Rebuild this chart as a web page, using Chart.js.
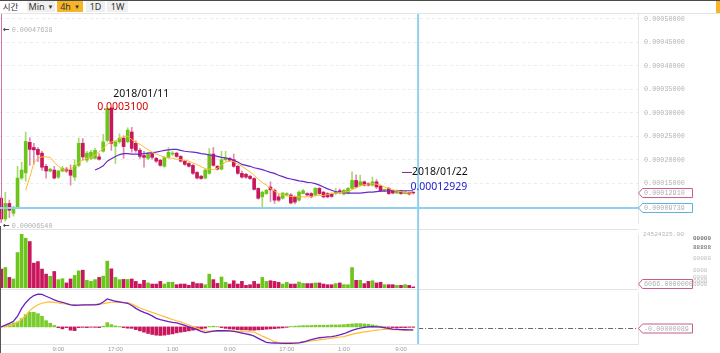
<!DOCTYPE html>
<html>
<head>
<meta charset="utf-8">
<script src="https://cdn.jsdelivr.net/npm/chart.js@4.4.1/dist/chart.umd.min.js"></script>
<style>
  html, body { margin: 0; padding: 0; background: #fff; }
  body { width: 720px; height: 353px; position: relative; overflow: hidden; font-family: "Noto Sans", sans-serif; }
  #toolbar { position: absolute; left: 0; top: 0; width: 720px; height: 12px; border-top: 1px solid #4a4a4a; border-bottom: 1px solid #e4e4e4; }
  .btn { position: absolute; top: 0; height: 11px; line-height: 11px; font-size: 9px; color: #333; text-align: center; white-space: nowrap; }
  .btn small { font-size: 6px; margin-left: 3px; vertical-align: 1px; }
  .grey { background: #efefef; }
  .pane { position: absolute; left: 0; width: 720px; }
  .mark { position: absolute; font: 6.8px "Liberation Mono", monospace; color: #b0b0b0; white-space: nowrap; line-height: 8px; }
  .mark b { color: #444; font: bold 8px "DejaVu Sans", sans-serif; margin-right: 2px; }
  .junk { position: absolute; left: 693px; font: 6px "Liberation Mono", monospace; color: #bbb; line-height: 6px; }
</style>
</head>
<body>
<div id="toolbar">
  <div class="btn" style="left:1px;width:19px;font-family:'Noto Sans CJK KR',sans-serif;font-size:8.5px;">시간</div>
  <div class="btn grey" style="left:27px;width:28px;">Min<small>▼</small></div>
  <div class="btn" style="left:57px;width:26px;background:#f5b527;">4h<small>▼</small></div>
  <div class="btn grey" style="left:86px;width:19px;">1D</div>
  <div class="btn grey" style="left:107px;width:21px;">1W</div>
  <div style="position:absolute;left:716px;top:0;width:4px;height:12px;background:#f5b527;"></div>
</div>

<div class="pane" style="top:14px;height:212px;"><canvas id="price" width="720" height="212"></canvas></div>
<div class="pane" style="top:226px;height:65px;"><canvas id="volume" width="720" height="65"></canvas></div>
<div class="pane" style="top:291px;height:62px;"><canvas id="macd" width="720" height="62"></canvas></div>

<div class="mark" style="left:3px;top:25px;"><b>&larr;</b>0.00047638</div>
<div class="mark" style="left:3px;top:221px;"><b>&larr;</b>0.00006540</div>

<div class="junk" style="top:236px;color:#777;font-weight:bold;">00000</div>
<div class="junk" style="top:245px;color:#888;font-weight:bold;">88888</div>
<div class="junk" style="top:256px;">00000</div>
<div class="junk" style="top:268px;">0000</div>
<div class="junk" style="top:275px;">0000</div>
<div class="junk" style="top:279px;">0000</div>
<div class="junk" style="top:282px;">0000</div>

<script>
// ---- data (candle index 0..101) ----
const opens = [0.000118,0.0000740,0.000107,0.000086,0.000099,0.000161,0.000172,0.000237,0.000226,0.000222,
  0.000214,0.000186,0.000176,0.000178,0.000163,0.000176,0.000180,0.000178,0.000163,0.000188,
  0.000235,0.000199,0.000203,0.000203,0.000206,0.000218,0.000241,0.000310,0.000229,0.000238,
  0.000246,0.000238,0.000259,0.000235,0.000220,0.000209,0.000203,0.000213,0.000203,0.000199,
  0.000186,0.000205,0.000212,0.000214,0.000207,0.000197,0.000192,0.000188,0.000173,0.000165,
  0.000161,0.000171,0.000212,0.000186,0.000180,0.000200,0.000203,0.000200,0.000186,0.000171,
  0.000169,0.000165,0.000160,0.000139,0.000121,0.000128,0.000142,0.000135,0.000121,0.000118,
  0.000125,0.000125,0.000121,0.000114,0.000128,0.000128,0.000128,0.000125,0.000139,0.000131,
  0.000128,0.000127,0.000128,0.000134,0.000127,0.000129,0.000139,0.000156,0.000146,0.000153,
  0.000149,0.000146,0.000153,0.000144,0.000134,0.000139,0.000134,0.000129,0.000134,0.000128,
  0.000130,0.0001295];
const highs = [0.000121,0.000131,0.000114,0.000101,0.000186,0.000195,0.000259,0.000247,0.000235,0.000226,
  0.000218,0.000190,0.000182,0.000186,0.000178,0.000186,0.000184,0.000189,0.000200,0.000246,
  0.000245,0.000218,0.000220,0.000224,0.000213,0.000254,0.000310,0.000310,0.000240,0.000255,
  0.000251,0.000268,0.000269,0.000240,0.000224,0.000218,0.000216,0.000216,0.000205,0.000201,
  0.000207,0.000226,0.000218,0.000216,0.000209,0.000199,0.000194,0.000190,0.000175,0.000167,
  0.000180,0.000224,0.000226,0.000188,0.000218,0.000218,0.000205,0.000212,0.000188,0.000176,
  0.000171,0.000167,0.000162,0.000140,0.000133,0.000137,0.000153,0.000138,0.000126,0.000131,
  0.000130,0.000128,0.000123,0.000134,0.000137,0.000130,0.000130,0.000141,0.000141,0.000133,
  0.000130,0.000129,0.000139,0.000138,0.000137,0.000141,0.000174,0.000168,0.000167,0.000155,
  0.000151,0.000163,0.000158,0.000146,0.000138,0.000141,0.000135,0.000136,0.000135,0.000133,
  0.000131,0.000130];
const lows = [0.0000654,0.000069,0.000077,0.000080,0.000097,0.000158,0.000154,0.000188,0.000190,0.000196,
  0.000177,0.000161,0.000174,0.000159,0.000160,0.000174,0.000173,0.000146,0.000156,0.000185,
  0.000199,0.000195,0.000200,0.000201,0.000199,0.000216,0.000238,0.000220,0.000192,0.000235,
  0.000203,0.000236,0.000216,0.000216,0.000203,0.000184,0.000200,0.000201,0.000194,0.000186,
  0.000184,0.000203,0.000209,0.000205,0.000195,0.000188,0.000184,0.000169,0.000159,0.000158,
  0.000159,0.000169,0.000186,0.000178,0.000178,0.000197,0.000197,0.000184,0.000169,0.000161,
  0.000160,0.000158,0.000135,0.000116,0.0000996,0.000126,0.000111,0.000107,0.000111,0.000116,
  0.000123,0.000106,0.000106,0.000112,0.000127,0.000123,0.000119,0.000123,0.000126,0.000119,
  0.000119,0.000120,0.000126,0.000128,0.000125,0.000127,0.000137,0.000140,0.000144,0.000144,
  0.000144,0.000144,0.000139,0.000132,0.000132,0.000126,0.000127,0.000128,0.000126,0.000127,
  0.000125,0.000127];
const closes = [0.0000740,0.000107,0.0000925,0.000099,0.000161,0.000178,0.000239,0.000222,0.000221,0.000211,
  0.000184,0.000176,0.000180,0.000161,0.000176,0.000182,0.000176,0.000167,0.000188,0.000235,
  0.000206,0.000214,0.000216,0.000220,0.000201,0.000238,0.000309,0.000235,0.000238,0.000246,
  0.000228,0.000263,0.000224,0.000220,0.000207,0.000205,0.000213,0.000205,0.000197,0.000188,
  0.000205,0.000216,0.000214,0.000207,0.000197,0.000190,0.000186,0.000171,0.000161,0.000160,
  0.000178,0.000212,0.000188,0.000180,0.000200,0.000203,0.000199,0.000186,0.000171,0.000163,
  0.000163,0.000160,0.000137,0.000118,0.000131,0.000135,0.000136,0.000114,0.000114,0.000129,
  0.000128,0.000108,0.000110,0.000131,0.000134,0.000125,0.000121,0.000139,0.000128,0.000121,
  0.000121,0.000122,0.000131,0.000132,0.000135,0.000139,0.000156,0.000142,0.000153,0.000146,
  0.000146,0.000153,0.000142,0.000134,0.000137,0.000128,0.000129,0.000134,0.000128,0.000132,
  0.000127,0.0001291];

// moving averages on the price pane
const maFast = [null,null,null,null,null,null,
  0.000135,0.000163,0.000193,0.000203,0.000206,0.000206,0.000205,0.000195,0.000186,0.000180,
  0.000178,0.000180,0.000186,0.000194,0.000199,0.000203,0.000205,0.000210,0.000217,0.000224,
  0.000233,0.000238,0.000240,0.000245,0.000249,0.000250,0.000243,0.000237,0.000233,0.000227,
  0.000221,0.000216,0.000212,0.000209,0.000205,0.000204,0.000203,0.000201,0.000200,0.000199,
  0.000197,0.000193,0.000190,0.000185,0.000181,0.000180,0.000179,0.000182,0.000189,0.000195,
  0.000197,0.000196,0.000191,0.000186,0.000180,0.000174,0.000167,0.000159,0.000151,0.000146,
  0.000139,0.000133,0.000128,0.000126,0.000123,0.000122,0.000122,0.000121,0.000121,0.000121,
  0.000122,0.000123,0.000124,0.000124,0.000126,0.000128,0.000129,0.000130,0.000131,0.000132,
  0.000136,0.000140,0.000144,0.000147,0.000148,0.000149,0.000148,0.000146,0.000142,0.000139,
  0.000136,0.000134,0.000132,0.000131,0.000129,0.000128];
const maSlow = [null,null,null,null,null,null,null,null,null,null,null,null,null,null,null,null,
  null,null,null,null,null,null,null,
  0.000178,0.000182,0.000187,0.000197,0.000202,0.000207,0.000211,0.000213,0.000213,0.000212,
  0.000212,0.000212,0.000213,0.000214,0.000215,0.000216,0.000218,0.000220,0.000221,0.000222,
  0.000222,0.000220,0.000218,0.000217,0.000216,0.000215,0.000213,0.000212,0.000210,0.000209,
  0.000207,0.000205,0.000204,0.000202,0.000199,0.000195,0.000190,0.000188,0.000186,0.000183,
  0.000181,0.000179,0.000176,0.000173,0.000171,0.000167,0.000164,0.000161,0.000159,0.000157,
  0.000155,0.000154,0.000152,0.000151,0.000149,0.000146,0.000142,0.000138,0.000135,0.000132,
  0.000130,0.000130,0.000129,0.000129,0.000129,0.000129,0.000130,0.000131,0.000131,0.000132,
  0.000133,0.000133,0.000134,0.000134,0.000134,0.000134,0.000134,0.000134,0.000134];

// volume in millions
const volumes = [8.6,9.3,4.8,4.1,16.1,24.52,22.6,21.1,11.3,12.0, 8.6,6.3,5.3,7.5,3.8,4.2,2.3,4.1,5.7,7.8,
  8.1,3.5,3.0,3.8,4.8,5.4,12.2,8.7,4.8,3.8, 3.9,3.9,4.1,3.0,1.8,3.5,2.3,1.8,1.8,3.0,
  1.8,2.6,2.6,1.5,1.8,1.8,1.2,2.7,2.0,2.0, 1.5,6.3,3.8,2.1,5.0,2.6,1.8,3.3,1.8,3.0,
  1.2,1.5,3.0,1.8,4.8,3.0,3.3,3.0,2.6,1.8, 2.6,1.8,1.8,2.7,2.1,2.0,2.0,2.3,2.3,1.8,
  1.5,1.5,2.0,2.3,1.5,1.5,9.3,3.5,3.5,2.0, 3.0,3.3,2.3,2.6,1.5,1.5,1.5,1.2,1.2,1.5, 1.2,0.5];
const volMax = 24.524325;

// MACD pane, in units of 1e-6
const macdLine = [0,1.2,2.5,4.0,7.5,13,17,20,22,23, 22.8,21.5,20.3,19,18,17.3,16.3,15.5,15.2,15.3,
  15.4,15.4,15.4,15.5,15.9,17.5,19.6,18.8,18,17.5, 17,16.6,15,13,11.4,10.2,9.1,7.7,6,5.1,
  4.4,3.7,3.2,2.8,2.0,1.1,0,-1,-1.9,-3.2, -4.0,-3.5,-3.0,-2.7,-2.6,-2.7,-2.8,-3.2,-3.7,-4.3,
  -4.9,-5.5,-6.5,-8,-9.5,-10.8,-11.2,-11.3,-11.4,-11.5, -11.5,-11.5,-11.4,-11.2,-10.6,-9.8,-8.9,-8.2,-7.6,-7.3,
  -7.0,-6.8,-6.3,-5.6,-4.8,-3.6,-2.4,-1.6,-0.9,-0.4, 0,0.1,0,-0.2,-0.6,-1.1,-1.5,-1.7,-1.9,-2.0, -2.1,-2.1];
const signalLine = [0,0.4,0.9,1.6,3.2,5.2,8,11.4,13.8,15.6, 16.6,17.2,17.5,17.2,16.8,16.4,16.1,15.7,15.3,15.2,
  15.3,15.4,15.6,15.8,15.9,16.4,16.9,17.3,17.3,17.2, 17.1,17,16,14.6,13.3,12.2,11.2,10.2,9.2,8.2,
  7.2,6.2,5.2,4.3,3.5,2.4,1.3,0.2,-0.9,-1.9, -2.7,-3.0,-3.0,-3.0,-2.9,-2.8,-2.8,-2.9,-3.1,-3.3,
  -3.5,-3.4,-3.6,-5,-6.5,-7.7,-9,-10.3,-11,-11.2, -11.2,-11.1,-11.1,-11,-10.7,-10.3,-9.9,-9.5,-9.1,-8.7,
  -8.3,-7.9,-7.5,-7.1,-6.8,-6.0,-5.3,-4.6,-4.0,-3.5, -3.1,-2.7,-2.3,-2.0,-1.8,-1.8,-1.9,-2.0,-2.1,-2.2, -2.2,-2.3];
const macdHist = [0.3,0.8,1.6,2.8,3.5,5.8,8.6,10.3,10.3,9.3, 7.5,4.4,2.6,1.0,-0.5,-1.4,-0.5,-2.3,-2.6,-0.5,
  -0.3,-0.5,-0.2,-0.3,-0.5,0.5,3.0,1.6,0.7,0.3, -0.5,-0.9,-1.0,-1.9,-2.8,-3.7,-4.6,-5.3,-5.8,-6.0,
  -5.8,-5.3,-4.9,-4.2,-3.7,-3.3,-2.8,-2.3,-1.9,-1.4, -0.9,0.3,0.5,0.2,-0.5,-1.0,-1.4,-1.6,-1.9,-2.1,
  -2.1,-2.3,-2.3,-2.1,-1.9,-1.6,-1.4,-1.2,-0.9,-0.7, -0.3,0.3,0.5,0.7,0.9,0.9,1.0,1.2,1.2,1.2,
  1.2,1.4,1.4,1.4,1.6,1.9,2.1,2.3,2.3,2.1, 1.9,1.4,0.9,0.5,0.2,-0.3,-0.5,-0.7,-0.5,-0.5, -0.3,-0.3];

// axes
const priceTicks = [0.00015, 0.0002, 0.00025, 0.0003, 0.00035, 0.0004, 0.00045, 0.0005];
const tickIdx = [14, 28, 42, 56, 70, 84, 98];
const tickText = ['9:00', '17:00', '1:00', '9:00', '17:00', '1:00', '9:00'];

// markers
const nowIdx = 102.2;
const crossPrice = 0.00009739;
const lastPrice = 0.0001291;
const highIdx = 26, highPrice = 0.00031;
const noteIdx = 98, notePrice = 0.00012929;

const UP = '#6cc51b', DOWN = '#c8175d', UP_WICK = '#a5dc6a', DOWN_WICK = '#e08ab0';
const BLUE = '#90cff0';
const monoFont = { family: 'Liberation Mono', size: 6.8 };

function line(ctx, x1, y1, x2, y2) {
  ctx.beginPath(); ctx.moveTo(x1, y1); ctx.lineTo(x2, y2); ctx.stroke();
}

function tag(ctx, x0, x1, y, text, color) {
  ctx.save();
  ctx.beginPath();
  ctx.moveTo(x0 + 0.5, y);
  ctx.lineTo(x0 + 4.5, y - 4.5);
  ctx.lineTo(x1 + 0.5, y - 4.5);
  ctx.lineTo(x1 + 0.5, y + 4.5);
  ctx.lineTo(x0 + 4.5, y + 4.5);
  ctx.closePath();
  ctx.fillStyle = '#fff'; ctx.fill();
  ctx.strokeStyle = color; ctx.lineWidth = 1; ctx.stroke();
  ctx.fillStyle = '#b0b0b0';
  ctx.font = '6.8px "Liberation Mono", monospace';
  ctx.textBaseline = 'middle';
  ctx.fillText(text, x0 + 6, y + 0.5);
  ctx.restore();
}

function xAxis(show) {
  return {
    type: 'linear', min: -0.3, max: 156.1, offset: false, display: show,
    grid: { display: false, drawTicks: false },
    border: { display: false },
    ticks: {
      color: '#9a9a9a', font: { family: 'Liberation Sans', size: 6 }, padding: 2,
      maxRotation: 0, autoSkip: false,
      callback: v => { const k = tickIdx.indexOf(v); return k < 0 ? '' : tickText[k]; }
    },
    afterBuildTicks: s => { s.ticks = tickIdx.map(v => ({ value: v })); },
    afterFit: s => { s.height = show ? 9 : 0; }
  };
}

function rightAxis(extra) {
  return Object.assign({
    position: 'right',
    grid: { display: false, drawTicks: false },
    border: { display: true, color: '#e6e6e6' },
    ticks: { color: '#b4b4b4', font: monoFont, padding: 6 },
    afterFit: s => { s.width = 82; s.paddingTop = 0; s.paddingBottom = 0; }
  }, extra);
}

const idx = opens.map((o, i) => i);
const isUp = idx.map(i => closes[i] >= opens[i]);

const base = {
  responsive: false, animation: false, devicePixelRatio: 1, events: [],
  plugins: { legend: { display: false }, tooltip: { enabled: false } }
};

// ---- price pane ----
const priceOverlay = {
  id: 'priceOverlay',
  afterDraw(chart) {
    const { ctx, chartArea: a, scales: { x, y } } = chart;
    ctx.save();
    ctx.strokeStyle = '#d873a6'; ctx.lineWidth = 1;
    line(ctx, 1.5, 0, 1.5, a.bottom - 2);
    ctx.strokeStyle = BLUE; ctx.lineWidth = 2;
    const bx = x.getPixelForValue(nowIdx);
    line(ctx, bx, 0, bx, chart.height);
    const by = y.getPixelForValue(crossPrice);
    line(ctx, 0, by, a.right, by);

    tag(ctx, a.right, 692, y.getPixelForValue(lastPrice), '0.00012910', '#c85a8e');
    tag(ctx, a.right, 692, by, crossPrice.toFixed(8), '#5aaee0');

    ctx.font = '10.5px "Noto Sans", sans-serif';
    ctx.textBaseline = 'middle';
    const hx = x.getPixelForValue(highIdx), hy = y.getPixelForValue(highPrice);
    ctx.fillStyle = '#111';
    ctx.fillText('2018/01/11', hx + 6, hy - 14);
    ctx.fillStyle = '#d40000';
    ctx.fillText('0.0003100', hx - 10, hy - 1);

    const nx = x.getPixelForValue(noteIdx), ny = y.getPixelForValue(notePrice);
    ctx.strokeStyle = '#7a2a80'; ctx.lineWidth = 1;
    line(ctx, nx + 1, ny - 20.5, nx + 11, ny - 20.5);
    ctx.fillStyle = '#111';
    ctx.fillText('2018/01/22', nx + 11, ny - 21);
    ctx.fillStyle = '#1a1acc';
    ctx.fillText('0.00012929', nx + 9.5, ny - 6);
    ctx.restore();
  }
};

new Chart(document.getElementById('price'), {
  type: 'bar',
  data: {
    datasets: [
      { type: 'line', data: idx.map(i => ({ x: i, y: maFast[i] })), borderColor: '#ffbb2c', borderWidth: 1,
        pointRadius: 0, order: 0 },
      { type: 'line', data: idx.map(i => ({ x: i, y: maSlow[i] })), borderColor: '#6a28cc', borderWidth: 1.2,
        pointRadius: 0, order: 0 },
      { data: idx.map(i => ({ x: i, y: [Math.min(opens[i], closes[i]), Math.max(opens[i], closes[i])] })),
        backgroundColor: isUp.map(u => u ? UP : DOWN), barThickness: 3, minBarLength: 1,
        grouped: false, order: 1 },
      { data: idx.map(i => ({ x: i, y: [lows[i], highs[i]] })),
        backgroundColor: isUp.map(u => u ? UP_WICK : DOWN_WICK), barThickness: 1,
        grouped: false, order: 2 }
    ]
  },
  options: Object.assign({}, base, {
    layout: { padding: { top: 0, bottom: 3, left: 0, right: 0 } },
    scales: {
      x: xAxis(false),
      y: rightAxis({
        min: 0.0000654, max: 0.00051,
        grid: { display: true, drawTicks: false, color: '#ececec' },
        border: { display: true, color: '#e6e6e6', dash: [3, 3] },
        afterBuildTicks: s => { s.ticks = priceTicks.map(v => ({ value: v })); },
        ticks: { color: '#b4b4b4', font: monoFont, padding: 6, callback: v => v.toFixed(8) }
      })
    }
  }),
  plugins: [priceOverlay]
});

// ---- volume pane ----
const volOverlay = {
  id: 'volOverlay',
  afterDraw(chart) {
    const { ctx, chartArea: a, scales: { x } } = chart;
    ctx.save();
    ctx.strokeStyle = '#e4e4e4'; ctx.lineWidth = 1;
    line(ctx, 0, 3.5, a.right, 3.5);
    line(ctx, 0, 63.5, a.right, 63.5);
    ctx.strokeStyle = '#555';
    line(ctx, 0.5, 0, 0.5, chart.height);
    ctx.strokeStyle = BLUE; ctx.lineWidth = 2;
    const bx = x.getPixelForValue(nowIdx);
    line(ctx, bx, 0, bx, chart.height);
    tag(ctx, a.right, 692, a.bottom - 4, '6066.0000000', '#c85a8e');
    ctx.restore();
  }
};

new Chart(document.getElementById('volume'), {
  type: 'bar',
  data: {
    datasets: [{
      data: idx.map(i => ({ x: i, y: volumes[i] })),
      backgroundColor: isUp.map(u => u ? UP : DOWN), barThickness: 3
    }]
  },
  options: Object.assign({}, base, {
    layout: { padding: { top: 8, bottom: 3, left: 0, right: 0 } },
    scales: {
      x: xAxis(false),
      y: rightAxis({
        min: 0, max: volMax,
        afterBuildTicks: s => { s.ticks = [{ value: volMax }]; },
        ticks: { color: '#b4b4b4', font: { family: 'Liberation Mono', size: 6.2 }, padding: 5,
          callback: v => (v * 1e6).toFixed(2) }
      })
    }
  }),
  plugins: [volOverlay]
});

// ---- MACD pane ----
const macdOverlay = {
  id: 'macdOverlay',
  afterDraw(chart) {
    const { ctx, chartArea: a, scales: { x, y } } = chart;
    ctx.save();
    ctx.strokeStyle = '#e4e4e4'; ctx.lineWidth = 1;
    line(ctx, 0, a.bottom + 0.5, a.right, a.bottom + 0.5);
    ctx.strokeStyle = '#555';
    line(ctx, 0.5, 0, 0.5, chart.height);
    const bx = x.getPixelForValue(nowIdx);
    const zy = Math.round(y.getPixelForValue(-0.89)) + 0.5;
    ctx.strokeStyle = '#666'; ctx.lineWidth = 1; ctx.setLineDash([5, 2, 1, 2]);
    line(ctx, bx, zy, a.right, zy);
    ctx.setLineDash([]);
    ctx.strokeStyle = BLUE; ctx.lineWidth = 2;
    line(ctx, bx, 0, bx, a.bottom);
    tag(ctx, a.right, 692, zy, '-0.00000089', '#c85a8e');
    ctx.restore();
  }
};

new Chart(document.getElementById('macd'), {
  type: 'bar',
  data: {
    datasets: [
      { type: 'line', data: idx.map(i => ({ x: i, y: macdLine[i] })), borderColor: '#6a1fc8', borderWidth: 1.3,
        pointRadius: 0, order: 0 },
      { type: 'line', data: idx.map(i => ({ x: i, y: signalLine[i] })), borderColor: '#ffbf33', borderWidth: 1.2,
        pointRadius: 0, order: 0 },
      { data: idx.map(i => ({ x: i, y: macdHist[i] })),
        backgroundColor: macdHist.map(v => v >= 0 ? '#79cc2c' : DOWN), barThickness: 3, order: 1 }
    ]
  },
  options: Object.assign({}, base, {
    layout: { padding: { top: 1, bottom: 0, left: 0, right: 0 } },
    scales: {
      x: xAxis(true),
      y: rightAxis({ min: -12, max: 24.5, ticks: { display: false } })
    }
  }),
  plugins: [macdOverlay]
});
</script>
</body>
</html>
